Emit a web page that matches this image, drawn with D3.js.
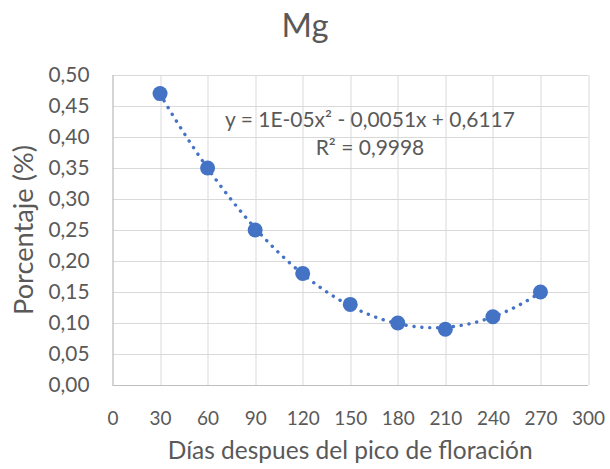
<!DOCTYPE html>
<html lang="es">
<head>
    <meta charset="UTF-8">
    <title>Mg</title>
    <script src="https://d3js.org/d3.v7.min.js"></script>
    <style>
        body { margin: 0; background: #fff; }
        text { font-family: Lato, "Open Sans", sans-serif; fill: #595959; }
        .grid line { stroke: #d9d9d9; stroke-width: 1; }
        .axis path, .axis line { stroke: none; }
    </style>
</head>
<body>
<script>
    // data
    var dias = [30, 60, 90, 120, 150, 180, 210, 240, 270];
    var mg = [0.47, 0.35, 0.25, 0.18, 0.13, 0.10, 0.09, 0.11, 0.15];
    var xTicks = [0, 30, 60, 90, 120, 150, 180, 210, 240, 270, 300];
    var yTicks = [0, 0.05, 0.10, 0.15, 0.20, 0.25, 0.30, 0.35, 0.40, 0.45, 0.50];
    var ecuacion = ["y = 1E-05x\u00b2 - 0,0051x + 0,6117", "R\u00b2 = 0,9998"];

    var W = 610, H = 469;
    var margin = {top: 75, right: 22, bottom: 84, left: 112.5};
    var width = W - margin.left - margin.right,
        height = H - margin.top - margin.bottom;

    var x = d3.scaleLinear().domain([0, 300]).range([0, width]);
    var y = d3.scaleLinear().domain([0, 0.5]).range([height, 0]);

    var svg = d3.select("body").append("svg")
        .attr("width", W)
        .attr("height", H);

    var g = svg.append("g")
        .attr("transform", "translate(" + margin.left + "," + margin.top + ")");

    // Calibri is not here, so size each text to the width it has in the original
    function fitWidth(sel, target) {
        var w = sel.node().getComputedTextLength();
        var fs = parseFloat(sel.style("font-size"));
        sel.style("font-size", (fs * target / w) + "px");
    }

    // gridlines
    g.append("g").attr("class", "grid")
        .selectAll("line").data(yTicks).enter().append("line")
        .attr("x1", 0).attr("x2", width)
        .attr("y1", function(d) { return Math.round(y(d)) + 0.5; })
        .attr("y2", function(d) { return Math.round(y(d)) + 0.5; });
    g.append("g").attr("class", "grid")
        .selectAll("line").data(xTicks).enter().append("line")
        .attr("y1", 0).attr("y2", height)
        .attr("x1", function(d) { return Math.round(x(d)) + 0.5; })
        .attr("x2", function(d) { return Math.round(x(d)) + 0.5; });

    // axis lines, slightly darker
    g.append("line")
        .attr("x1", 0.5).attr("x2", 0.5).attr("y1", 0).attr("y2", height)
        .attr("stroke", "#bfbfbf");
    g.append("line")
        .attr("x1", 0).attr("x2", width)
        .attr("y1", Math.round(height) + 0.5).attr("y2", Math.round(height) + 0.5)
        .attr("stroke", "#bfbfbf");

    var fmt = function(d) { return d3.format(".2f")(d).replace(".", ","); };

    // axes
    var yAxis = g.append("g").attr("class", "axis")
        .call(d3.axisLeft(y).tickValues(yTicks).tickFormat(fmt).tickSize(0).tickPadding(23))
        .call(function(a) { a.select(".domain").remove(); });
    yAxis.selectAll("text").style("font-size", "20px").attr("fill", "#595959");
    var yLab = yAxis.select(".tick:last-of-type text");
    fitWidth(yLab, 41);
    yAxis.selectAll("text").style("font-size", yLab.style("font-size"));

    var xAxis = g.append("g").attr("class", "axis")
        .attr("transform", "translate(0," + height + ")")
        .call(d3.axisBottom(x).tickValues(xTicks).tickFormat(d3.format("d")).tickSize(0))
        .call(function(a) { a.select(".domain").remove(); });
    xAxis.selectAll("text").style("font-size", "20px").attr("fill", "#595959")
        .attr("y", 40).attr("dy", 0);
    var xLab = xAxis.select(".tick:last-of-type text");
    fitWidth(xLab, 33);
    xAxis.selectAll("text").style("font-size", xLab.style("font-size"));

    // trendline: least squares polynomial of order 2, as Excel does
    function fitQuad(xs, ys) {
        var n = xs.length, s = [0, 0, 0, 0, 0], t = [0, 0, 0];
        for (var i = 0; i < n; i++) {
            for (var k = 0; k < 5; k++) s[k] += Math.pow(xs[i], k);
            for (var k2 = 0; k2 < 3; k2++) t[k2] += ys[i] * Math.pow(xs[i], k2);
        }
        var A = [[s[0], s[1], s[2], t[0]], [s[1], s[2], s[3], t[1]], [s[2], s[3], s[4], t[2]]];
        for (var c = 0; c < 3; c++) {
            for (var r = c + 1; r < 3; r++) {
                var f = A[r][c] / A[c][c];
                for (var j = c; j < 4; j++) A[r][j] -= f * A[c][j];
            }
        }
        var b = [0, 0, 0];
        for (var r2 = 2; r2 >= 0; r2--) {
            var v = A[r2][3];
            for (var j2 = r2 + 1; j2 < 3; j2++) v -= A[r2][j2] * b[j2];
            b[r2] = v / A[r2][r2];
        }
        return b;
    }
    var coef = fitQuad(dias, mg);
    var curva = d3.range(dias[0], dias[dias.length - 1] + 0.5, 2).map(function(d) {
        return [d, coef[0] + coef[1] * d + coef[2] * d * d];
    });

    g.append("path")
        .datum(curva)
        .attr("fill", "none")
        .attr("stroke", "#4472c4")
        .attr("stroke-width", 3.4)
        .attr("stroke-linecap", "round")
        .attr("stroke-dasharray", "0.1 7.8")
        .attr("d", d3.line()
            .x(function(d) { return x(d[0]); })
            .y(function(d) { return y(d[1]); }));

    // points
    g.selectAll(".dot")
        .data(dias)
        .enter().append("circle")
        .attr("class", "dot")
        .attr("cx", function(d) { return x(d); })
        .attr("cy", function(d, i) { return y(mg[i]); })
        .attr("r", 7.5)
        .attr("fill", "#4472c4");

    // trendline label
    var eq = svg.selectAll(".eq")
        .data(ecuacion)
        .enter().append("text")
        .attr("class", "eq")
        .attr("x", 370)
        .attr("y", function(d, i) { return 127 + i * 28; })
        .attr("text-anchor", "middle")
        .style("font-size", "20px")
        .text(function(d) { return d; });
    var eq1 = d3.select(eq.nodes()[0]);
    fitWidth(eq1, 290);
    eq.style("font-size", eq1.style("font-size"));

    // title
    var titulo = svg.append("text")
        .attr("x", 305)
        .attr("y", 37)
        .attr("text-anchor", "middle")
        .style("font-size", "33px")
        .text("Mg");
    fitWidth(titulo, 47);

    // axis titles
    var xTitulo = svg.append("text")
        .attr("x", margin.left + width / 2)
        .attr("y", 459)
        .attr("text-anchor", "middle")
        .style("font-size", "20px")
        .text("Días despues del pico de floración");
    fitWidth(xTitulo, 365);

    var yTitulo = svg.append("text")
        .attr("transform", "translate(33," + (margin.top + height / 2) + ") rotate(-90)")
        .attr("text-anchor", "middle")
        .style("font-size", "20px")
        .text("Porcentaje (%)");
    fitWidth(yTitulo, 170);
</script>
</body>
</html>
